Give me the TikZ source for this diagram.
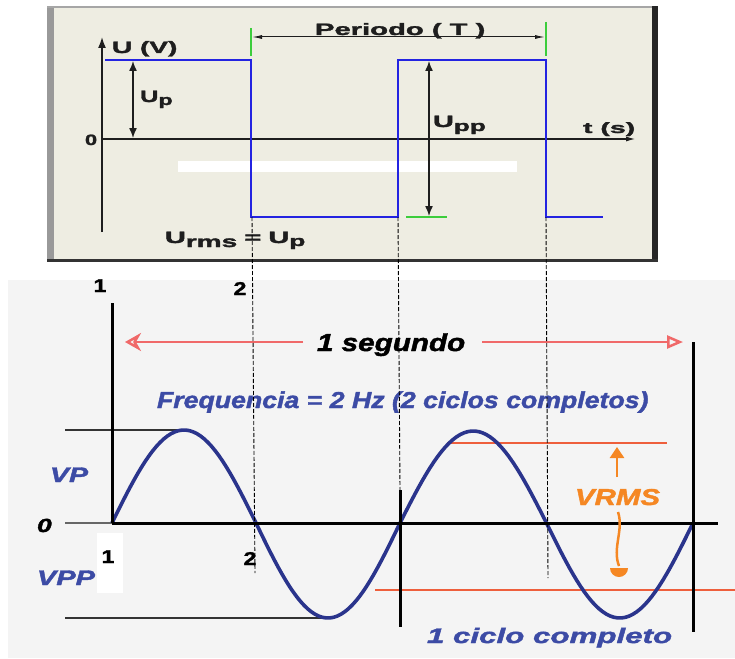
\documentclass[tikz,border=0pt]{standalone}
\usepackage{fontspec}
\setmainfont{Liberation Sans}[BoldFeatures={FakeBold=1.6},BoldItalicFeatures={FakeBold=1.6}]
\usetikzlibrary{arrows.meta}
\definecolor{beige}{RGB}{238,237,226}
\definecolor{panelgray}{RGB}{244,244,244}
\definecolor{sqblue}{RGB}{35,35,225}
\definecolor{sinblue}{RGB}{42,52,140}
\definecolor{txtblue}{RGB}{60,75,165}
\definecolor{tickgreen}{RGB}{60,205,60}
\definecolor{redline}{RGB}{240,105,105}
\definecolor{rmsline}{RGB}{238,95,60}
\definecolor{rmsorange}{RGB}{245,135,35}
\definecolor{ink}{RGB}{30,30,30}
\newcommand\sxt[3]{\scalebox{#1}[1]{\fontsize{#2}{#2}\selectfont #3}}
\begin{document}
\begin{tikzpicture}[x=1pt,y=-1pt,
  txt/.style={inner sep=0pt,outer sep=0pt,anchor=base west},
  ctxt/.style={inner sep=0pt,outer sep=0pt,anchor=base},
  topax/.style={ink,line width=1.6pt},
  dim/.style={ink,line width=1.4pt,{Latex[length=10pt,width=8pt]}-{Latex[length=10pt,width=8pt]}},
  sqwave/.style={sqblue,line width=1.8pt},
  gtick/.style={tickgreen,line width=2pt},
  bax/.style={black,line width=3pt},
  guide/.style={black!80,line width=2pt},
  sine/.style={sinblue,line width=3.6pt,line join=round},
  rmsl/.style={rmsline,line width=1.6pt},
  redarr/.style={redline,line width=2.5pt},
  vdash/.style={black,line width=0.9pt,dash pattern=on 4pt off 2pt}]
\useasboundingbox (0,0) rectangle (735,658);
% ---------- top panel ----------
\fill[beige] (47,6) rectangle (657,262);
\fill[black!40] (47,6) rectangle (54,262);
\draw[black!35,line width=1.5pt] (47,7) -- (657,7);
\fill[black!85] (652,6) rectangle (658,262);
\fill[black!80] (47,259) rectangle (658,262);
\fill[white] (178,161) rectangle (517,172);

\coordinate (yb) at (102,232); \coordinate (yt) at (102,37);
\coordinate (xl) at (102,139); \coordinate (xr) at (636,139);
\draw[topax,-{Latex[length=11pt,width=8pt]}] (yb) -- (yt);
\draw[topax,-{Latex[length=10pt,width=5pt]}] (xl) -- (xr);

\draw[sqwave] (105,60) -- (251,60) -- (251,217) -- (398,217) -- (398,60)
  -- (546,60) -- (546,217) -- (603,217);

\coordinate (g1a) at (251,28); \coordinate (g1b) at (251,56);
\coordinate (g2a) at (546,22); \coordinate (g2b) at (546,56);
\draw[gtick] (g1a) -- (g1b);
\draw[gtick] (g2a) -- (g2b);
\draw[gtick] (406,217) -- (447,217);

\coordinate (pl) at (252,37); \coordinate (pr) at (545,37);
\draw[ink,line width=1pt,{Latex[length=10pt,width=4pt]}-{Latex[length=10pt,width=4pt]}] (pl) -- (pr);
\draw[dim] (133,61) -- (133,138);
\draw[dim] (429,61) -- (429,216);

\node[txt,ink] (per) at (315,35) {\sxt{1.77}{16.5}{\bfseries Periodo ( T )}};
\node[txt,ink] (uv) at (112,53) {\sxt{1.7}{16.5}{\bfseries U (V)}};
\node[txt,ink] (up) at (140,102) {\sxt{1.55}{16.5}{\bfseries U\raisebox{-3pt}{\fontsize{15}{15}\selectfont p}}};
\node[txt,ink] (z0) at (85,145) {\sxt{1.45}{15}{\bfseries 0}};
\node[txt,ink] (upp) at (433,127) {\sxt{1.75}{16.5}{\bfseries U\raisebox{-4pt}{\fontsize{15}{15}\selectfont pp}}};
\node[txt,ink] (ts) at (583,133) {\sxt{1.9}{15}{\bfseries t (s)}};
\node[txt,ink] (urms) at (165,243) {\sxt{1.75}{16.5}{\bfseries U\raisebox{-4pt}{\fontsize{16}{16}\selectfont rms}\hspace{0.25em}=\hspace{0.25em}U\raisebox{-3pt}{\fontsize{15}{15}\selectfont p}}};

% ---------- bottom panel ----------
\fill[panelgray] (8,280) rectangle (735,658);
\fill[white] (97,533) rectangle (123,593);

\draw[rmsl] (447,443) -- (667,443);
\draw[rmsl] (375,590) -- (735,590);

\draw[black!60,line width=1.5pt] (65,523) -- (112,523);
\draw[guide] (65,430) -- (182,430);
\draw[guide] (65,618) -- (322,618);

\draw[sine] plot[domain=0:1,samples=40] ({112+144*\x},{523-93*sin(180*\x)})
  -- plot[domain=0:1,samples=40] ({256+144*\x},{523+95*sin(180*\x)})
  -- plot[domain=0:1,samples=40] ({400+146.5*\x},{523-92*sin(180*\x)})
  -- plot[domain=0:1,samples=40] ({546.5+146.5*\x},{523+95*sin(180*\x)});

\coordinate (o) at (112,523); \coordinate (ytop) at (112,303);
\coordinate (xend) at (718,523);
\draw[bax] (o) -- (ytop);
\draw[bax] (o) -- (xend);
\draw[bax] (400,490) -- (400,627);
\draw[bax] (693,342) -- (693,632);

\coordinate (ra) at (303,342); \coordinate (rb) at (125,342);
\coordinate (rc) at (482,342); \coordinate (rd) at (683,342);
\draw[redarr,-{Stealth[open,length=16pt,width=18pt,inset=5pt]}] (ra) -- (rb);
\draw[redarr,-{Triangle[open,length=16pt,width=13pt]}] (rc) -- (rd);

\coordinate (vu0) at (617,477); \coordinate (vu1) at (617,447);
\draw[rmsorange,line width=2.5pt,-{Triangle[length=11pt,width=14pt]}] (vu0) -- (vu1);
\draw[rmsorange,line width=2.5pt] (618,512) .. controls (624,530) and (612,548) .. (619,566);
\fill[rmsorange] (628,568) arc[start angle=0,end angle=180,radius=9] -- cycle;

\node[txt] (seg) at (317,351) {\sxt{1.21}{24.5}{\bfseries\itshape 1 segundo}};
\node[txt,txtblue] (freq) at (157,408) {\sxt{1.16}{23}{\bfseries\itshape Frequencia = 2 Hz (2 ciclos completos)}};
\node[txt,txtblue] (ciclo) at (427,643) {\sxt{1.49}{21}{\bfseries\itshape 1 ciclo completo}};
\node[txt,txtblue] (vp) at (50,482) {\sxt{1.36}{21}{\bfseries\itshape VP}};
\node[txt,txtblue] (vpp) at (37,585) {\sxt{1.38}{21}{\bfseries\itshape VPP}};
\node[txt] (zero) at (37,532) {\sxt{1.4}{19}{\bfseries\itshape 0}};
\node[txt,rmsorange] (vrms) at (575,505) {\sxt{1.28}{23}{\bfseries\itshape VRMS}};
\node[ctxt] (n1a) at (100,292) {\sxt{1.25}{18.5}{\bfseries 1}};
\node[ctxt] (n2a) at (240,295) {\sxt{1.25}{18.5}{\bfseries 2}};
\node[ctxt] (n1b) at (108,563) {\sxt{1.25}{18.5}{\bfseries 1}};
\node[ctxt] (n2b) at (250,565) {\sxt{1.25}{18.5}{\bfseries 2}};

% ---------- dashed guides ----------
\draw[vdash] (252,217) -- (255,573);
\draw[vdash] (398,217) -- (400,490);
\draw[vdash] (546,217) -- (548,578);
\end{tikzpicture}
\end{document}
